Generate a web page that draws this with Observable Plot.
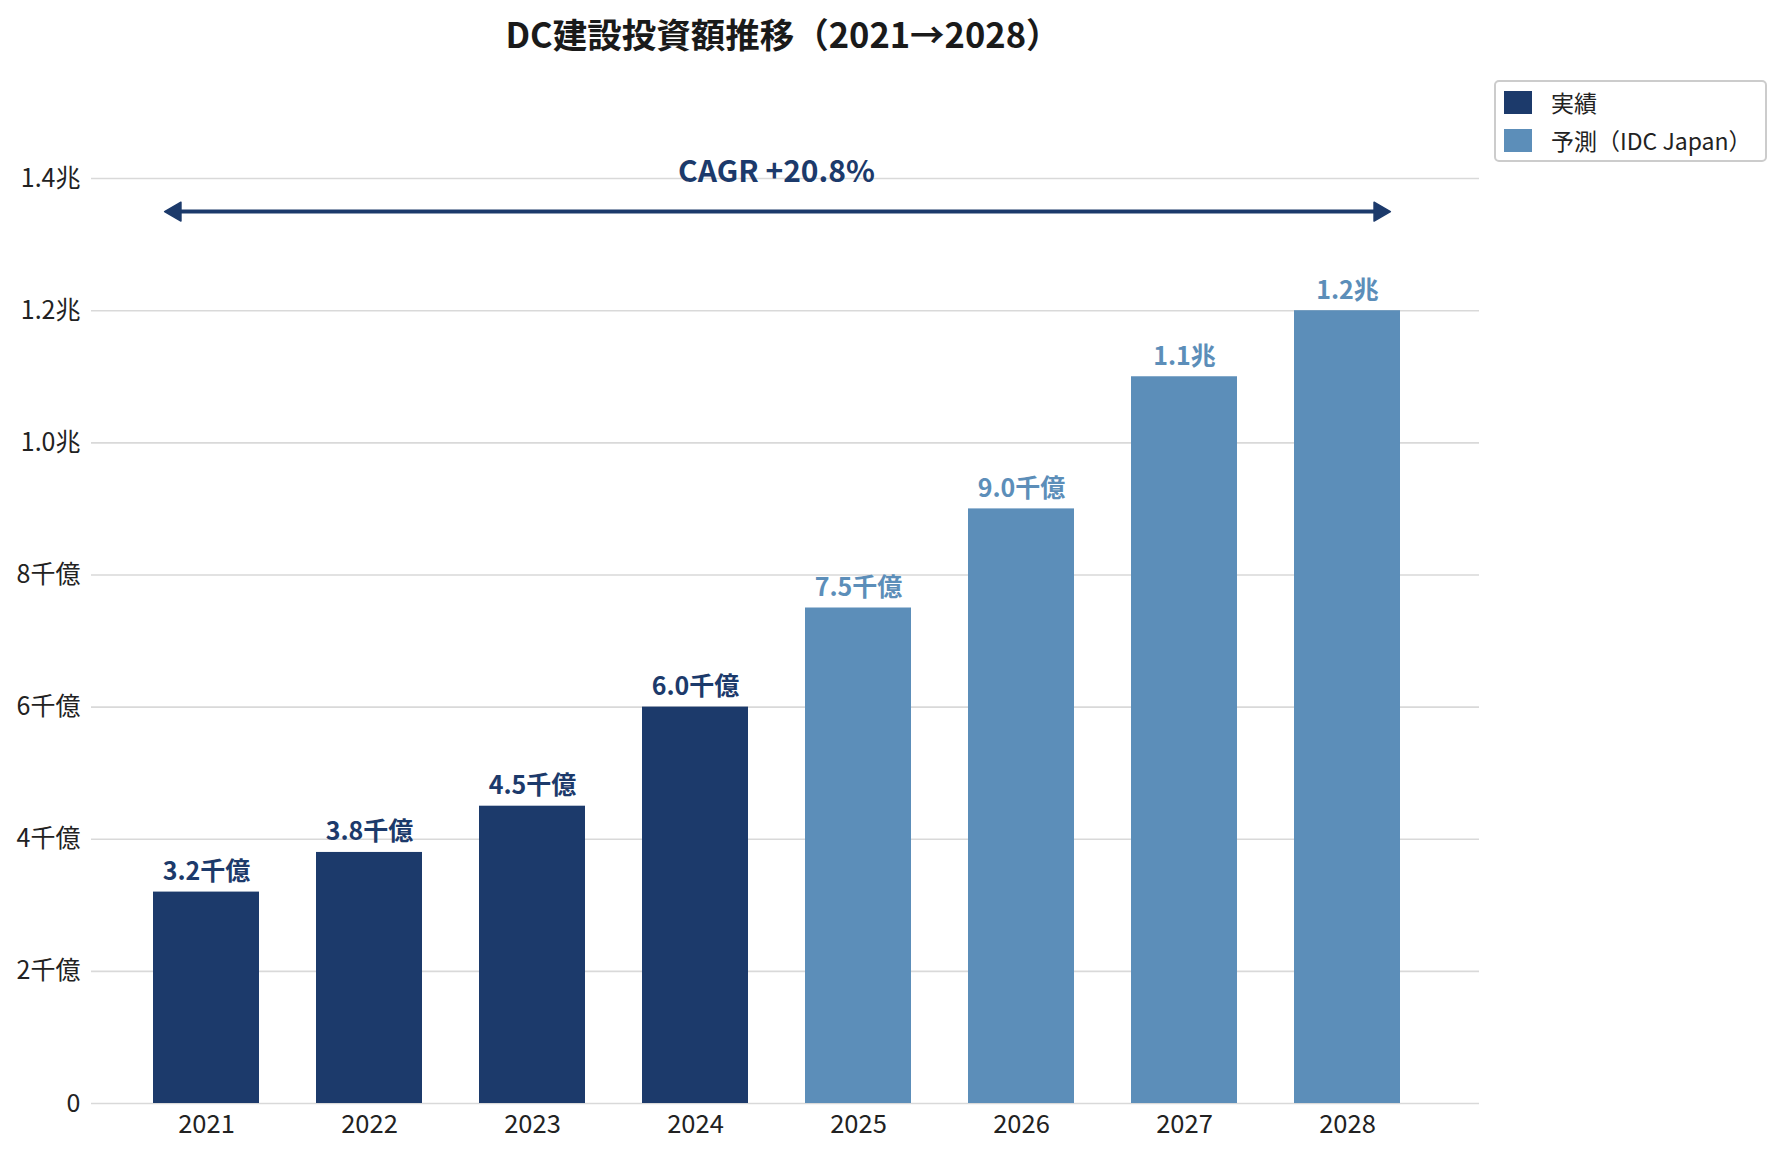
<!DOCTYPE html>
<html>
<head>
<meta charset="utf-8">
<script src="https://cdn.jsdelivr.net/npm/d3@7"></script>
<script src="https://cdn.jsdelivr.net/npm/@observablehq/plot@0.6"></script>
<style>
  html, body { margin: 0; padding: 0; background: #fff; }
  body { font-family: "Noto Sans CJK JP", "Noto Sans", sans-serif; }
  #wrap { position: relative; width: 1785px; height: 1157px; }
  #title { position: absolute; left: 0; top: 10px; width: 1566px; text-align: center;
           font-size: 34.5px; font-weight: bold; color: #1a1a1a; line-height: 46px; }
  #legend { position: absolute; left: 1494px; top: 80px; width: 269px; height: 78px;
            border: 2px solid #cccccc; border-radius: 5px; background: #fff; }
  .row { position: absolute; left: 8px; height: 23px; display: flex; align-items: center; }
  .sw { width: 28px; height: 23px; margin-right: 19px; }
  .lt { font-size: 23px; color: #222; line-height: 23px; white-space: nowrap; }
  #chart { position: absolute; left: 0; top: 0; }
</style>
</head>
<body>
<div id="wrap">
  <div id="chart"></div>
  <div id="title"></div>
  <div id="legend"></div>
</div>
<script>
// ---- data ----
const years = ["2021", "2022", "2023", "2024", "2025", "2026", "2027", "2028"];
const values = [3200, 3800, 4500, 6000, 7500, 9000, 11000, 12000]; // 億円
const status = ["実績", "実績", "実績", "実績", "予測", "予測", "予測", "予測"];
const valueLabels = ["3.2千億", "3.8千億", "4.5千億", "6.0千億", "7.5千億", "9.0千億", "1.1兆", "1.2兆"];
const yTicks = [0, 2000, 4000, 6000, 8000, 10000, 12000, 14000];
const yTickLabels = ["0", "2千億", "4千億", "6千億", "8千億", "1.0兆", "1.2兆", "1.4兆"];
const seriesNames = ["実績", "予測"];
const legendLabels = ["実績", "予測（IDC Japan）"];
const seriesColors = ["#1c3a6b", "#5c8eb9"];
const titleText = "DC建設投資額推移（2021→2028）";
const cagrText = "CAGR +20.8%";
const cagrSpan = {from: "2021", to: "2028", level: 13500, textLevel: 14100};

const data = years.map((y, i) => ({year: y, value: values[i], status: status[i], label: valueLabels[i]}));

document.getElementById("title").textContent = titleText;

const legend = document.getElementById("legend");
legendLabels.forEach((t, i) => {
  const r = document.createElement("div");
  r.className = "row";
  r.style.top = (9 + i * 38) + "px";
  r.innerHTML = `<div class="sw" style="background:${seriesColors[i]}"></div><div class="lt"></div>`;
  r.querySelector(".lt").textContent = t;
  legend.appendChild(r);
});

const dark = seriesColors[0];
const chart = Plot.plot({
  width: 1785,
  height: 1157,
  marginTop: 112,
  marginBottom: 54,
  marginLeft: 91,
  marginRight: 306,
  style: {fontFamily: "'Noto Sans CJK JP', 'Noto Sans', sans-serif", fontSize: "25px", color: "#222", background: "transparent"},
  x: {domain: years, paddingInner: 0.351, paddingOuter: 0.4227, align: 0.442, axis: null},
  y: {domain: [0, 15000], axis: null},
  color: {domain: seriesNames, range: seriesColors},
  marks: [
    Plot.ruleY(yTicks, {stroke: "#d9d9d9", strokeWidth: 1.6}),
    Plot.axisY(yTicks, {tickSize: 0, tickPadding: 11, label: null, fontSize: 25,
      tickFormat: d => yTickLabels[yTicks.indexOf(d)]}),
    Plot.axisX({tickSize: 0, tickPadding: 11, label: null, fontSize: 25.5}),
    Plot.barY(data, {x: "year", y: "value", fill: "status"}),
    Plot.text(data, {x: "year", y: "value", text: "label", fill: "status", lineAnchor: "bottom",
      dy: -12, fontWeight: "bold", fontSize: 25}),
    // shaft of the CAGR double arrow
    Plot.arrow([cagrSpan], {x1: "from", x2: "to", y1: "level", y2: "level", stroke: dark,
      strokeWidth: 4, headLength: 0, insetStart: -34, insetEnd: -35}),
    // filled heads
    Plot.dot([cagrSpan], {x: "from", y: "level", symbol: "triangle", r: 7, rotate: -90,
      fill: dark, stroke: dark, strokeWidth: 1.5, strokeLinejoin: "round", dx: -31}),
    Plot.dot([cagrSpan], {x: "to", y: "level", symbol: "triangle", r: 7, rotate: 90,
      fill: dark, stroke: dark, strokeWidth: 1.5, strokeLinejoin: "round", dx: 32}),
    Plot.text([cagrSpan], {frameAnchor: "middle", y: "textLevel", dx: -9, text: () => cagrText,
      fill: dark, fontWeight: "bold", fontSize: 30})
  ]
});
document.getElementById("chart").appendChild(chart);
</script>
</body>
</html>
